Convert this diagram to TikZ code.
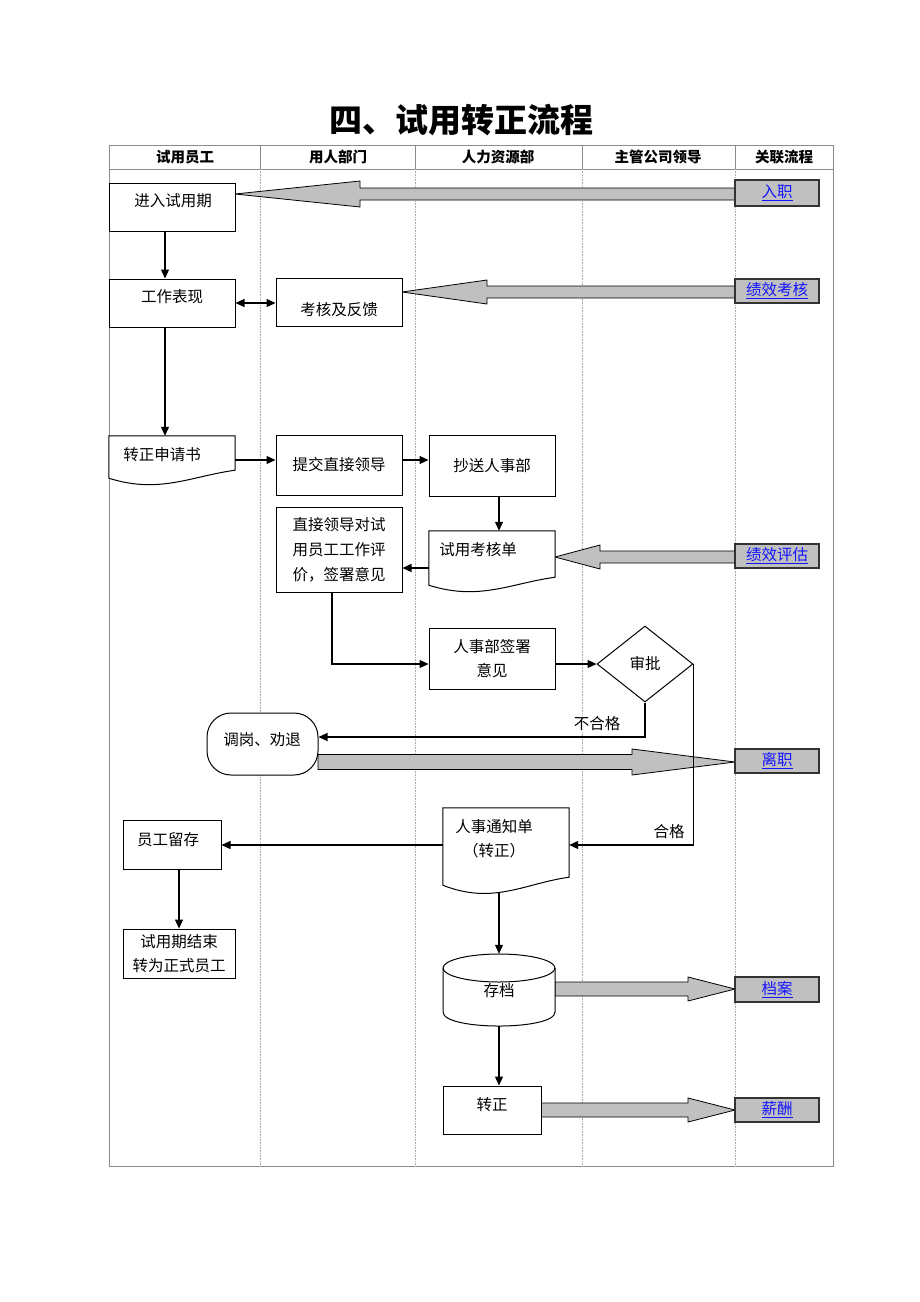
\documentclass[tikz,border=0pt]{standalone}
\usepackage{fontspec}
\setmainfont{Liberation Serif}
\newfontfamily\cjk{Noto Sans CJK SC}
\usetikzlibrary{shapes.geometric,arrows.meta,calc}
\definecolor{blkgray}{RGB}{192,192,192}
\definecolor{gridgray}{RGB}{140,140,140}
\definecolor{dotgray}{RGB}{170,170,170}
\definecolor{lnkblue}{RGB}{20,20,255}
\newcommand\blkL[6]{\draw[blk] (#1,#2) -- (#3,#2-#5) -- (#3,#2-#6) -- (#4,#2-#6) -- (#4,#2+#6) -- (#3,#2+#6) -- (#3,#2+#5) -- cycle;}
\newcommand\docpath[3]{\draw[line width=1pt, fill=white] (#1.north west) -- (#1.south west) .. controls +(0.4*#2,#3) and +(-0.35*#2,6) .. ([yshift=8pt]#1.south east) -- (#1.north east) -- cycle;}
\begin{document}
\begin{tikzpicture}[x=1pt,y=-1pt,
  font=\cjk\fontsize{15.5}{19}\selectfont,
  box/.style={draw, line width=1pt, fill=white, inner sep=0pt},
  ghost/.style={inner sep=0pt},
  txt/.style={inner sep=0pt, align=center},
  arr/.style={-{Triangle[length=9pt,width=8pt]}, line width=1.1pt},
  blk/.style={draw=black, line width=0.8pt, fill=blkgray},
  lnk/.style={draw=black!80, line width=1.6pt, fill=blkgray, minimum width=84pt, inner sep=0pt, text=lnkblue},
  hdr/.style={inner sep=0pt, font=\cjk\bfseries\fontsize{14.5}{17}\selectfont},
]
\useasboundingbox[fill=white] (0,0) rectangle (920,1302);

% title
\node[inner sep=0pt, font=\cjk\bfseries\fontsize{33}{40}\selectfont] (title) at (461,120) {四、试用转正流程};

% table
\draw[gridgray, line width=1pt] (109,145) rectangle (833,1166);
\draw[gridgray, line width=0.8pt] (109,169) -- (833,169);
\foreach \x in {260,415,582,735} {
  \draw[gridgray, line width=0.8pt] (\x,145) -- (\x,169);
  \draw[dotgray, line width=0.6pt, densely dotted] (\x,169) -- (\x,1166);
}
\node[hdr] (h1) at (185,157) {试用员工};
\node[hdr] (h2) at (338,157) {用人部门};
\node[hdr] (h3) at (498,157) {人力资源部};
\node[hdr] (h4) at (658,157) {主管公司领导};
\node[hdr] (h5) at (784,157) {关联流程};

% block arrows (drawn first)
\blkL{235}{194}{360}{735}{13}{6}
\blkL{402}{292}{487}{735}{12}{6}
\blkL{555}{557}{600}{735}{12}{6}
\blkL{735}{762}{632}{318}{13}{7.5}
\blkL{735}{989}{688}{555}{12}{7}
\blkL{735}{1110}{688}{541}{12}{7}

% link boxes
\node[lnk, minimum height=26pt] (l1) at (777,193) {\underline{入职}};
\node[lnk, minimum height=24pt] (l2) at (777,291) {\underline{绩效考核}};
\node[lnk, minimum height=24pt] (l3) at (777,556) {\underline{绩效评估}};
\node[lnk, minimum height=24pt] (l4) at (777,761) {\underline{离职}};
\node[lnk, minimum height=25pt] (l5) at (777,989.5) {\underline{档案}};
\node[lnk, minimum height=24pt] (l6) at (777,1110) {\underline{薪酬}};

% process nodes
\node[box, minimum width=126pt, minimum height=48pt] (n1) at (172,207) {};
\node[txt] (t1) at (173,201) {进入试用期};
\node[box, minimum width=126pt, minimum height=48pt] (n2) at (172,303) {};
\node[txt] (t2) at (172,297) {工作表现};
\node[box, minimum width=126pt, minimum height=48pt] (n3) at (339,302) {};
\node[txt] (t3) at (339,310) {考核及反馈};
\node[ghost, minimum width=126pt, minimum height=42pt] (n4) at (172,457) {};
\docpath{n4}{126}{16}
\node[txt] (t4) at (162,455) {转正申请书};
\node[box, minimum width=126pt, minimum height=60pt] (n5) at (339,465) {提交直接领导};
\node[box, minimum width=126pt, minimum height=61pt] (n6) at (492,465.5) {抄送人事部};
\node[box, minimum width=126pt, minimum height=85pt, align=center, font=\cjk\fontsize{15.5}{25}\selectfont] (n7) at (339,549.5) {直接领导对试\\用员工工作评\\价，签署意见};
\node[ghost, minimum width=126pt, minimum height=54pt] (n8) at (492,558) {};
\docpath{n8}{126}{16}
\node[txt] (t8) at (478,550) {试用考核单};
\node[box, minimum width=126pt, minimum height=61pt, align=center, font=\cjk\fontsize{15.5}{24}\selectfont] (n9) at (492,658.5) {人事部签署\\意见};
\node[draw, diamond, line width=1pt, fill=white, minimum width=96pt, minimum height=76pt, inner sep=0pt] (sp) at (645,664) {审批};
\node[draw, line width=1pt, fill=white, rounded corners=24pt, minimum width=111pt, minimum height=62pt, inner sep=0pt] (n11) at (262.5,744) {};
\node[txt] (t11) at (262,740) {调岗、劝退};
\node[ghost, minimum width=126pt, minimum height=77pt] (n12) at (506,846.5) {};
\docpath{n12}{126}{20}
\node[txt, font=\cjk\fontsize{15.5}{24}\selectfont] (t12) at (494,839) {人事通知单\\（转正）};
\node[box, minimum width=98pt, minimum height=49pt] (n13) at (172,844.5) {};
\node[txt] (t13) at (168,840) {员工留存};
\node[box, minimum width=112pt, minimum height=49pt, align=center, font=\cjk\fontsize{15.5}{24}\selectfont] (n14) at (179,953.5) {试用期结束\\转为正式员工};
% cylinder
\node[ghost, minimum width=112pt, minimum height=72pt] (n15) at (499,990) {};
\draw[line width=1pt, fill=white] (443,968) -- (443,1012) .. controls (443,1030.7) and (555,1030.7) .. (555,1012) -- (555,968);
\draw[line width=1pt] (499,968) ellipse [x radius=56, y radius=14];
\node[txt] (t15) at (499,991) {存档};
\node[box, minimum width=98pt, minimum height=48pt] (n16) at (492,1110) {};
\node[txt] (t16) at (492,1105) {转正};

% connectors
\draw[arr] ([xshift=-7pt]n1.south) -- ([xshift=-7pt]n2.north);
\draw[{Triangle[length=9pt,width=8pt]}-{Triangle[length=9pt,width=8pt]}, line width=1.1pt] (n2.east) -- (n3.west |- n2.east);
\draw[arr] ([xshift=-7pt]n2.south) -- ([xshift=-7pt]n4.north);
\draw[arr] ([yshift=-3pt]n4.east) coordinate (c4) -- (n5.west |- c4);
\draw[arr] ([yshift=5pt]n5.east) coordinate (c5) -- (n6.west |- c5);
\draw[arr] ([xshift=7pt]n6.south) -- ([xshift=7pt]n8.north);
\draw[arr] ([yshift=-10pt]n8.west) coordinate (c7) -- (n7.east |- c7);
\draw[arr] ([xshift=-7pt]n7.south) |- (n9.west |- sp.west);
\draw[arr] (n9.east |- sp.west) -- (sp.west);
\draw[arr] (sp.south) |- ([yshift=7pt]n11.east);
\node[txt, fill=white, inner sep=1pt] (lb1) at (597,724) {不合格};
\draw[arr] (sp.east) |- ([yshift=1.5pt]n12.east);
\node[txt] (lb2) at (669,832) {合格};
\draw[arr] ([yshift=1.5pt]n12.west) coordinate (c12) -- (n13.east |- c12);
\draw[arr] (n14.north |- n13.south) -- (n14.north);
\draw[arr] ([xshift=-7pt,yshift=-8pt]n12.south) -- (n15.north);
\draw[arr] (499,1026) -- ([xshift=7pt]n16.north);
\end{tikzpicture}
\end{document}
